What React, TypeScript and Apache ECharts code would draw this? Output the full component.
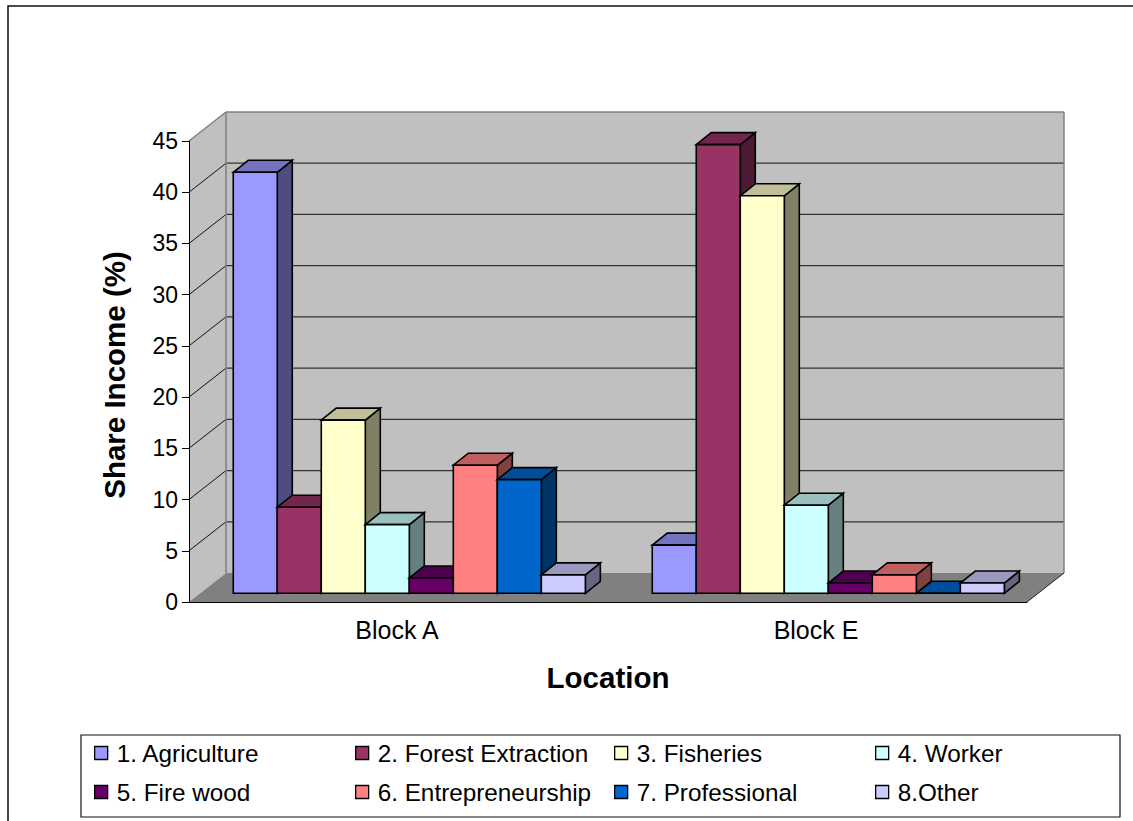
import React, { useEffect, useRef } from "react";
import * as echarts from "echarts";

const categories = ["Block A", "Block E"];
const seriesNames = [
  "1. Agriculture",
  "2. Forest Extraction",
  "3. Fisheries",
  "4. Worker",
  "5. Fire wood",
  "6. Entrepreneurship",
  "7. Professional",
  "8.Other",
];
const seriesColors = ["#9999FF", "#993366", "#FFFFCC", "#CCFFFF", "#660066", "#FF8080", "#0066CC", "#CCCCFF"];
const blockAValues = [41.1, 8.4, 16.9, 6.7, 1.5, 12.5, 11.1, 1.8];
const blockEValues = [4.7, 43.8, 38.8, 8.6, 1.0, 1.8, 0, 1.0];
const yTicks = [0, 5, 10, 15, 20, 25, 30, 35, 40, 45];

// Legend cells: swatch column and row positions
const legendColumns = [94, 355, 614, 875];
const legendRows = [741, 780];

const FONT = '"Liberation Sans", Arial, sans-serif';

// Oblique projection of the chart box and the bars inside it
const WALL_DX = 37;
const WALL_DY = -29;
const BAR_PLANE_DX = 10.8;
const BAR_PLANE_DY = -8.7;
const BAR_DEPTH_DX = 15;
const BAR_DEPTH_DY = -12;
const BAR_SLOTS = 9.52;

function shade(hex: string, factor: number): string {
  const n = parseInt(hex.slice(1), 16);
  const c = [(n >> 16) & 255, (n >> 8) & 255, n & 255].map((v) => Math.round(v * factor));
  return `rgb(${c[0]},${c[1]},${c[2]})`;
}

function poly(points: number[][], fill: string | null, stroke: string | null, lineWidth = 1) {
  return {
    type: "polygon",
    shape: { points },
    style: { fill: fill ?? "none", stroke: stroke ?? "none", lineWidth },
  };
}

function line(a: number[], b: number[], stroke: string, lineWidth = 1) {
  return {
    type: "line",
    shape: { x1: a[0], y1: a[1], x2: b[0], y2: b[1] },
    style: { stroke, lineWidth, fill: "none" },
  };
}

// Back wall, side wall, floor and the gridlines running over both walls
function renderBox(_params: any, api: any) {
  const bandWidth = api.size([1, 0])[0];
  const x0 = api.coord([0, 0])[0] - bandWidth / 2;
  const x1 = x0 + 2 * bandWidth;
  const y0 = api.coord([0, 0])[1];
  const yTop = api.coord([0, 45])[1];
  const bx0 = x0 + WALL_DX;
  const bx1 = x1 + WALL_DX;
  const by0 = y0 + WALL_DY;
  const byTop = yTop + WALL_DY;

  const children: any[] = [
    poly([[bx0, byTop], [bx1, byTop], [bx1, by0], [bx0, by0]], "#C0C0C0", null),
    poly([[x0, yTop], [bx0, byTop], [bx0, by0], [x0, y0]], "#C0C0C0", null),
    poly([[x0, y0], [bx0, by0], [bx1, by0], [x1, y0]], "#808080", null),
  ];
  yTicks.slice(1, -1).forEach((t) => {
    const y = api.coord([0, t])[1];
    children.push(line([x0, y], [bx0, y + WALL_DY], "#111", 1));
    children.push(line([bx0, y + WALL_DY], [bx1, y + WALL_DY], "#333", 1.2));
  });
  children.push(line([x0, yTop], [bx0, byTop], "#808080", 1.5));
  children.push(line([bx0, byTop], [bx1, byTop], "#808080", 1.5));
  children.push(line([bx0, byTop], [bx0, by0], "#808080", 1.5));
  children.push(line([bx1, byTop], [bx1, by0], "#808080", 1.5));
  children.push(line([x1, y0], [bx1, by0], "#222", 1));
  return { type: "group", children };
}

// One bar: front face, lit top and shaded right side
function makeBarRenderer(slot: number, color: string) {
  return (_params: any, api: any) => {
    const category = api.value(0);
    const top = api.coord([category, api.value(1)]);
    const base = api.coord([category, 0]);
    const barWidth = api.size([1, 0])[0] / BAR_SLOTS;
    const left = top[0] + BAR_PLANE_DX + (slot - 4) * barWidth;
    const right = left + barWidth;
    const yTop = top[1] + BAR_PLANE_DY;
    const yBase = base[1] + BAR_PLANE_DY;
    const dx = BAR_DEPTH_DX;
    const dy = BAR_DEPTH_DY;
    const lw = 1.6;
    return {
      type: "group",
      children: [
        poly([[right, yTop], [right + dx, yTop + dy], [right + dx, yBase + dy], [right, yBase]], shade(color, 0.5), "#000", lw),
        poly([[left, yTop], [left + dx, yTop + dy], [right + dx, yTop + dy], [right, yTop]], shade(color, 0.75), "#000", lw),
        poly([[left, yTop], [right, yTop], [right, yBase], [left, yBase]], color, "#000", lw),
      ],
    };
  };
}

export default function App() {
  const ref = useRef<HTMLDivElement>(null);

  useEffect(() => {
    document.body.style.margin = "0";
    const chart = echarts.init(ref.current as HTMLDivElement, undefined, { renderer: "svg" });
    chart.setOption({
      animation: false,
      backgroundColor: "#fff",
      textStyle: { fontFamily: FONT },
      grid: { left: 189, top: 141, width: 838, height: 461, containLabel: false },
      xAxis: {
        type: "category",
        data: categories,
        z: 10,
        name: "Location",
        nameLocation: "middle",
        nameGap: 60,
        nameTextStyle: { fontFamily: FONT, fontSize: 29.5, fontWeight: "bold", color: "#000" },
        axisLine: { lineStyle: { color: "#000", width: 1 } },
        axisTick: { length: 7, lineStyle: { color: "#000" } },
        axisLabel: { fontFamily: FONT, fontSize: 25, color: "#000", margin: 15, padding: [0, 3, 0, 0] },
      },
      yAxis: {
        type: "value",
        min: 0,
        max: 45,
        interval: 5,
        z: 10,
        name: "Share Income (%)",
        nameLocation: "middle",
        nameGap: 60,
        nameTextStyle: {
          fontFamily: FONT,
          fontSize: 29.5,
          fontWeight: "bold",
          color: "#000",
          padding: [0, 7, 0, 0],
        },
        axisLine: { show: true, lineStyle: { color: "#000", width: 1 } },
        axisTick: { show: true, length: 7, lineStyle: { color: "#000" } },
        axisLabel: { fontFamily: FONT, fontSize: 23, color: "#000", margin: 11 },
        splitLine: { show: false },
      },
      legend: seriesNames.map((name, i) => ({
        data: [name],
        left: legendColumns[i % 4],
        top: legendRows[Math.floor(i / 4)],
        padding: 0,
        icon: "rect",
        itemWidth: 13,
        itemHeight: 13,
        itemGap: 0,
        selectedMode: false,
        itemStyle: { borderColor: "#000", borderWidth: 1.3 },
        textStyle: { fontFamily: FONT, fontSize: 24.3, color: "#000", padding: [0, 0, 0, 4] },
      })),
      graphic: [
        {
          type: "polyline",
          z: -10,
          shape: { points: [[8, 821], [8, 6], [1133, 6]] },
          style: { stroke: "#111", lineWidth: 1.5, fill: "none" },
        },
        {
          type: "rect",
          z: -10,
          shape: { x: 81, y: 735, width: 1039, height: 82 },
          style: { stroke: "#111", lineWidth: 1.2, fill: "#fff" },
        },
      ],
      series: [
        {
          type: "custom",
          name: "box",
          z: 1,
          silent: true,
          clip: false,
          data: [[0, 0]],
          encode: { x: 0, y: 1 },
          renderItem: renderBox,
        },
        ...seriesNames.map((name, i) => ({
          type: "custom",
          name,
          z: 2 + i,
          silent: true,
          clip: false,
          itemStyle: { color: seriesColors[i] },
          data: [
            [0, blockAValues[i]],
            [1, blockEValues[i]],
          ],
          encode: { x: 0, y: 1 },
          renderItem: makeBarRenderer(i, seriesColors[i]),
        })),
      ],
    });
    return () => chart.dispose();
  }, []);

  return <div ref={ref} style={{ position: "absolute", left: 0, top: 0, width: 1133, height: 821 }} />;
}
